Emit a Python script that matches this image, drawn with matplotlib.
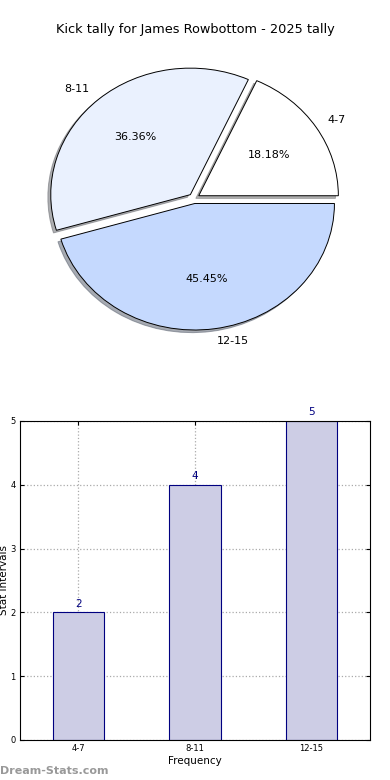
import matplotlib
matplotlib.use("Agg")
import matplotlib.pyplot as plt

title = "Kick tally for James Rowbottom - 2025 tally"
categories = ["4-7", "8-11", "12-15"]
counts = [2, 4, 5]
pie_colors = ["#ffffff", "#eaf1fe", "#c5d9fe"]
explode = [0.04, 0.04, 0.04]

fig = plt.figure(figsize=(3.9, 7.8), dpi=100)

# Pie chart (elliptical, like old matplotlib)
ax1 = fig.add_axes([0.05, 0.5428, 0.895, 0.4055])
wedges, texts, autotexts = ax1.pie(
    counts, labels=categories, colors=pie_colors, explode=explode,
    autopct="%1.2f%%", shadow={"ox": -0.015, "oy": -0.015, "shade": 0.6},
    startangle=0,
    wedgeprops=dict(edgecolor="black", linewidth=0.7),
    textprops=dict(fontsize=8))
ax1.set_aspect("auto")
ax1.set_xlim(-1.25, 1.25)
ax1.set_ylim(-1.25, 1.25)
fig.text(0.5, 1 - 30 / 780, title, ha="center", va="center", fontsize=9.3)

# Bar chart
ax2 = fig.add_axes([0.0513, 0.0513, 0.897, 0.409])
x = list(range(len(categories)))
ax2.bar(x, counts, width=0.44, color="#cdcde5", edgecolor="#000080",
        linewidth=0.8, zorder=2)
for xi, v in zip(x, counts):
    ax2.text(xi, v + 0.06, str(v), ha="center", va="bottom",
             fontsize=7.5, color="#000080", zorder=3)
ax2.set_xlim(-0.5, 2.5)
ax2.set_ylim(0, 5)
ax2.set_xticks(x)
ax2.set_xticklabels(categories)
ax2.set_yticks(range(6))
ax2.tick_params(axis="both", labelsize=6, direction="in", length=3,
                top=True, right=True, pad=3)
ax2.grid(True, linestyle=":", color="#aaaaaa", linewidth=0.9, zorder=0)
ax2.set_axisbelow(True)
ax2.set_xlabel("Frequency", fontsize=7.5, labelpad=2)
ax2.set_ylabel("Stat Intervals", fontsize=7.5, labelpad=1)
for s in ax2.spines.values():
    s.set_linewidth(0.8)

fig.text(0.0, 1 - 771 / 780, "Dream-Stats.com", ha="left", va="center",
         fontsize=8, color="#999999", fontweight="bold")

fig.savefig("out.png", dpi=100)
